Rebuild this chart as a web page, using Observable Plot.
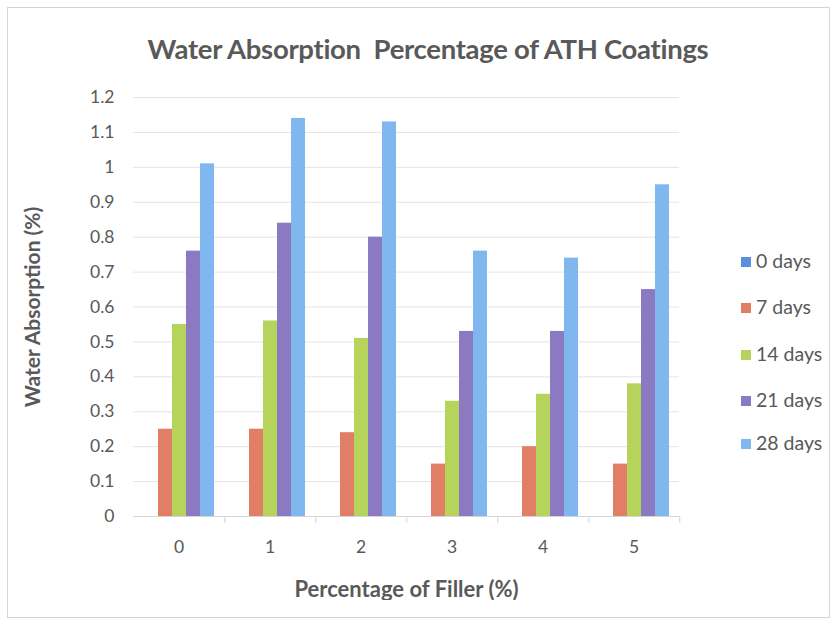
<!DOCTYPE html>
<html>
<head>
<meta charset="utf-8">
<script src="https://cdn.jsdelivr.net/npm/d3@7"></script>
<script src="https://cdn.jsdelivr.net/npm/@observablehq/plot@0.6"></script>
<style>
  html, body { margin: 0; padding: 0; background: #fff; }
  #wrap { position: relative; width: 834px; height: 629px; background: #fff; overflow: hidden; font-family: Lato, "Open Sans", sans-serif; }
  #frame { position: absolute; left: 7px; top: 7px; width: 823px; height: 611px; border: 1px solid #d4d4d4; box-sizing: border-box; }
  #title { position: absolute; left: 0; width: 856px; top: 32px; text-align: center; font-size: 27.5px; font-weight: bold; color: #595959; letter-spacing: -0.3px; }
  #chart { position: absolute; left: 0; top: 80px; }
  #legend { position: absolute; left: 741px; top: 250px; }
  .li { position: absolute; left: 0; white-space: nowrap; font-size: 19.5px; color: #595959; height: 22px; line-height: 22px; }
  .sw { display: inline-block; width: 10px; height: 10px; margin-right: 5px; vertical-align: 1px; }
  svg g[aria-label="y-axis label"] { font-weight: bold; font-size: 21px; }
  svg g[aria-label="fx-axis label"] { font-weight: bold; font-size: 22px; }
</style>
</head>
<body>
<div id="wrap">
  <div id="frame"></div>
  <div id="title">Water Absorption&nbsp; Percentage of ATH Coatings</div>
  <div id="chart"></div>
  <div id="legend"></div>
</div>
<script>
// ---- data ----
const groups = ["0", "1", "2", "3", "4", "5"];
const seriesNames = ["0 days", "7 days", "14 days", "21 days", "28 days"];
const days0  = [0, 0, 0, 0, 0, 0];
const days7  = [0.25, 0.25, 0.24, 0.15, 0.20, 0.15];
const days14 = [0.55, 0.56, 0.51, 0.33, 0.35, 0.38];
const days21 = [0.76, 0.84, 0.80, 0.53, 0.53, 0.65];
const days28 = [1.01, 1.14, 1.13, 0.76, 0.74, 0.95];
const seriesColors = ["#5a8fdc", "#e17e66", "#b6d45c", "#8b79c1", "#7fb7ee"];
const yTicks = [0, 0.1, 0.2, 0.3, 0.4, 0.5, 0.6, 0.7, 0.8, 0.9, 1, 1.1, 1.2];

const seriesValues = [days0, days7, days14, days21, days28];
const table = [];
groups.forEach((g, gi) => {
  seriesNames.forEach((s, si) => {
    table.push({group: g, series: s, value: seriesValues[si][gi]});
  });
});

// ---- layout ----
const W = 700, H = 520, mL = 131, mR = 20, mT = 17, mB = 84;
const facetStep = (W - mL - mR) / groups.length;
const padOuter = 0.75;

const plot = Plot.plot({
  width: W, height: H,
  marginLeft: mL, marginRight: mR, marginTop: mT, marginBottom: mB,
  style: {fontFamily: "Lato, 'Open Sans', sans-serif", fontSize: "17.5px", color: "#595959", background: "transparent"},
  fx: {domain: groups, padding: 0},
  x: {domain: seriesNames, paddingInner: 0, paddingOuter: padOuter, axis: null},
  y: {domain: [0, 1.2]},
  color: {domain: seriesNames, range: seriesColors},
  marks: [
    Plot.ruleY(yTicks.filter(d => d > 0), {stroke: "#e4e4e4", strokeWidth: 1}),
    Plot.barY(table, {fx: "group", x: "series", y: "value", fill: "series"}),
    Plot.ruleY([0], {stroke: "#d6d6d6", strokeWidth: 1}),
    Plot.axisY(yTicks, {
      tickSize: 0, tickPadding: 19,
      tickFormat: d => String(+d.toFixed(1)),
      label: "Water Absorption (%)", labelAnchor: "center", labelOffset: 108, labelArrow: "none",
      fill: "#595959"
    }),
    Plot.axisFx({
      anchor: "bottom", tickSize: 7, text: null, stroke: "#d6d6d6", dx: facetStep / 2, label: null
    }),
    Plot.axisFx({
      anchor: "bottom", tickSize: 0, tickPadding: 24,
      label: "Percentage of Filler (%)", labelAnchor: "center", labelOffset: 80, labelArrow: "none",
      fill: "#595959"
    })
  ]
});
document.getElementById("chart").appendChild(plot);

// ---- legend ----
const legend = document.getElementById("legend");
const legendTops = [0, 46, 93, 139, 182];
seriesNames.forEach((s, i) => {
  const item = document.createElement("div");
  item.className = "li";
  item.style.top = legendTops[i] + "px";
  const sw = document.createElement("span");
  sw.className = "sw";
  sw.style.background = seriesColors[i];
  item.appendChild(sw);
  item.appendChild(document.createTextNode(s));
  legend.appendChild(item);
});
</script>
</body>
</html>
